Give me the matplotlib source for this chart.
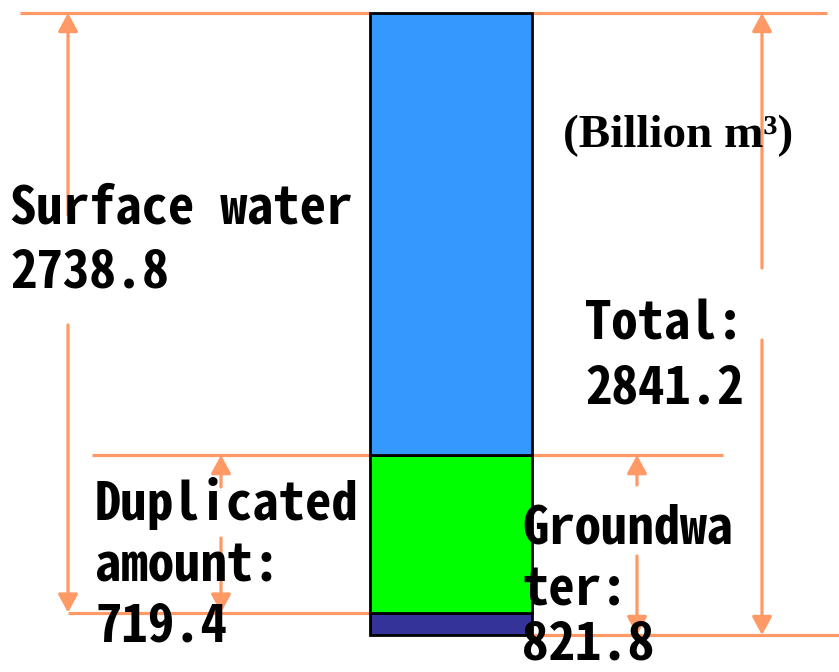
import matplotlib
matplotlib.use("Agg")
import matplotlib.pyplot as plt
from matplotlib.patches import FancyArrowPatch

# ---- data (billion m^3) ----
surface_water = 2738.8
groundwater = 821.8
duplicated = 719.4
total = 2841.2

segment_names = ["Groundwater only", "Duplicated amount", "Surface water only"]
segment_values = [groundwater - duplicated, duplicated, surface_water - duplicated]
segment_colors = ["#333399", "#00FF00", "#3399FF"]

W, H = 839, 672
fig = plt.figure(figsize=(W / 100, H / 100), dpi=100)
ax = fig.add_axes([0, 0, 1, 1])
# y scale: bar bottom at pixel 635, top at pixel 13
ppu = (635 - 13) / total
ax.set_xlim(0, W)
ax.set_ylim(-(H - 635) / ppu, total + 13 / ppu)
ax.axis("off")

def py(p):
    """pixel row -> data y"""
    return total + (13 - p) / ppu

ORANGE = "#FF9966"
LW = 2.3

# ---- bar ----
bottom = 0
for v, c in zip(segment_values, segment_colors):
    ax.bar(451, v, width=162, bottom=bottom, color=c, edgecolor="black",
           linewidth=2, zorder=3)
    bottom += v

# ---- horizontal guide lines ----
def hline(y, x0, x1):
    ax.plot([x0, x1], [y, y], color=ORANGE, lw=LW, solid_capstyle="butt", zorder=2)

hline(total, 20, 369)
hline(total, 533, 827)
hline(groundwater, 92, 369)
hline(groundwater, 533, 723)
hline(groundwater - duplicated, 68, 369)
hline(0, 533, W)

# ---- arrows ----
def arrow(x, y_from, y_to):
    a = FancyArrowPatch((x, y_from), (x, y_to),
                        arrowstyle="-|>,head_width=0.6,head_length=1.1",
                        mutation_scale=10, color=ORANGE, lw=LW,
                        shrinkA=0, shrinkB=0, zorder=2)
    ax.add_patch(a)

arrow(68, py(215), total)
arrow(68, py(325), groundwater - duplicated)
arrow(221, py(487), groundwater)
arrow(221, py(538), groundwater - duplicated)
arrow(637, py(485), groundwater)
arrow(637, py(556), 0)
arrow(762, py(268), total)
arrow(762, py(340), 0)

# ---- text ----
MONO = ["Noto Sans Mono CJK SC", "DejaVu Sans Mono"]
def label(x, ybase, s, size=38):
    ax.text(x / W, 1 - ybase / H, s, transform=ax.transAxes, ha="left",
            va="baseline", fontsize=size, fontweight="bold", family=MONO,
            color="black", zorder=4)

label(10, 223, "Surface water")
label(10, 288, f"{surface_water:.1f}")
label(585, 340, "Total:")
label(585, 403, f"{total:.1f}")
label(95, 520, "Duplicated")
label(95, 582, "amount:")
label(95, 642, f"{duplicated:.1f}")
label(522, 543, "Groundwa")
label(522, 605, "ter:")
label(522, 659, f"{groundwater:.1f}")

ax.text(563 / W, 1 - 147 / H, "(Billion m³)", transform=ax.transAxes,
        ha="left", va="baseline", fontsize=34, fontweight="bold",
        family=["Liberation Serif", "DejaVu Serif"], zorder=4)

fig.savefig("out.png", dpi=100)
